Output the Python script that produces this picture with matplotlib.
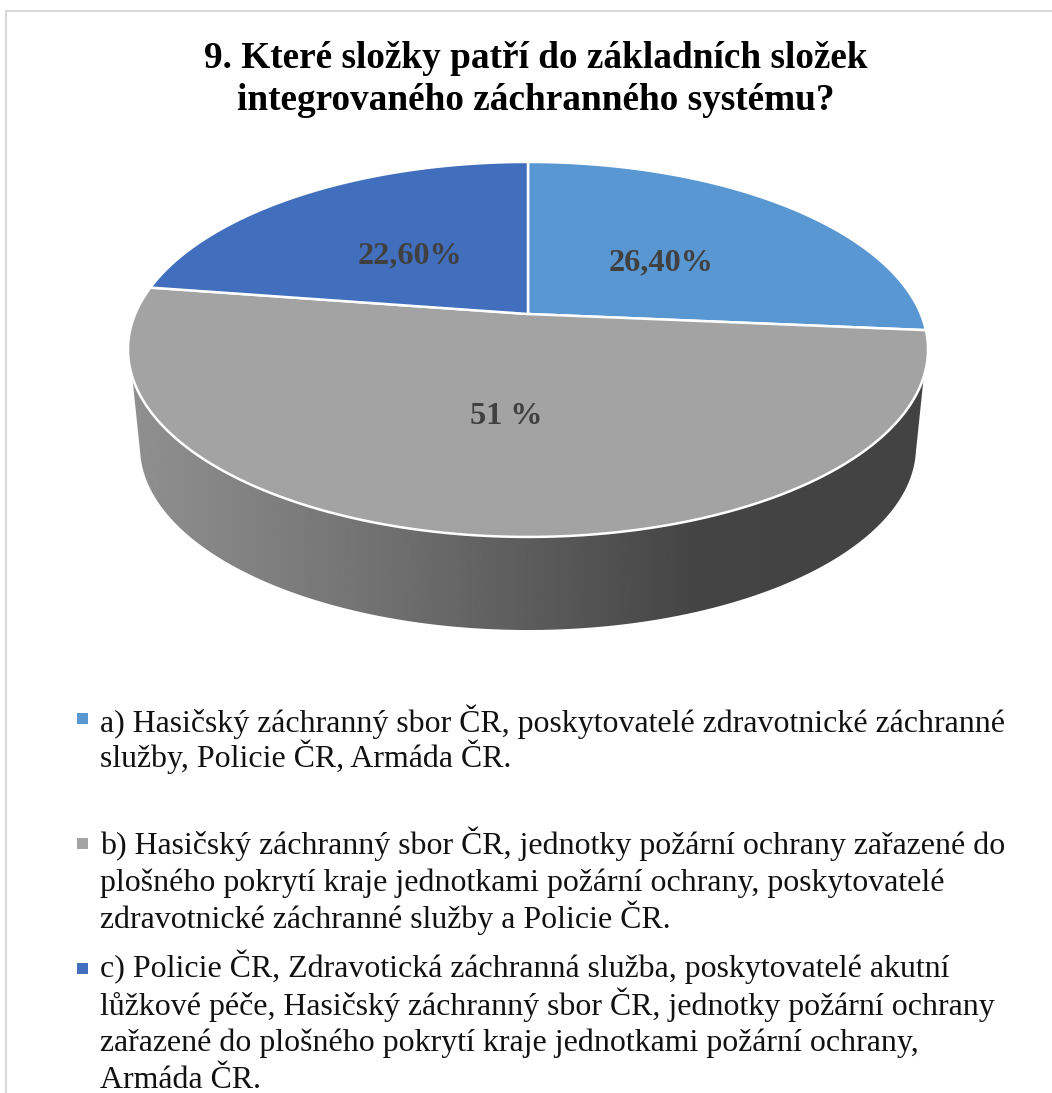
import numpy as np
import matplotlib
matplotlib.use('Agg')
import matplotlib.pyplot as plt
from matplotlib.patches import Polygon

# Values and texts
shares = [26.4, 51.0, 22.6]
share_labels = ['26,40%', '51 %', '22,60%']
colors = ['#5997D3', '#A3A3A3', '#416FBD']
title_lines = ['9. Které složky patří do základních složek',
               'integrovaného záchranného systému?']
legend_a = ['a) Hasičský záchranný sbor ČR, poskytovatelé zdravotnické záchranné',
            'služby, Policie ČR, Armáda ČR.']
legend_b = ['b) Hasičský záchranný sbor ČR, jednotky požární ochrany zařazené do',
            'plošného pokrytí kraje jednotkami požární ochrany, poskytovatelé',
            'zdravotnické záchranné služby a Policie ČR.']
legend_c = ['c) Policie ČR, Zdravotická záchranná služba, poskytovatelé akutní',
            'lůžkové péče, Hasičský záchranný sbor ČR, jednotky požární ochrany',
            'zařazené do plošného pokrytí kraje jednotkami požární ochrany,',
            'Armáda ČR.']

plt.rcParams['font.family'] = ['Liberation Serif', 'DejaVu Serif']

fig = plt.figure(figsize=(10.52, 10.93), dpi=100)
ax = fig.add_axes([0, 0, 1, 1])
ax.set_xlim(0, 1052)
ax.set_ylim(1093, 0)
ax.axis('off')

# Pie is a flat disc seen in perspective, so the centre sits above the ellipse middle
cx, cy = 528, 314
persp = 0.189
scale_x, scale_y = 392.8, 180.8


def disc(angle, radius=1.0):
    # angle in degrees, clockwise from 12 o'clock
    t = np.radians(angle)
    u, v = radius * np.sin(t), radius * np.cos(t)
    w = 1 + persp * v
    return cx + scale_x * u / w, cy - scale_y * v / w


# Side wall: outline between the top rim and the smaller bottom rim
rim = np.linspace(90, 270, 200)
top_x, top_y = disc(rim)
keep = top_y > 375
top_x, top_y = top_x[keep], top_y[keep]
low = np.radians(np.linspace(90, 270, 200))
low_x = cx + 388 * np.sin(low)
low_y = 447 - 183 * np.cos(low)
keep = low_y > 450
low_x, low_y = low_x[keep], low_y[keep]
wall_xy = np.column_stack([np.r_[top_x, low_x[::-1]], np.r_[top_y, low_y[::-1]]])
wall = Polygon(wall_xy, closed=True, fc='none', ec='none')
ax.add_patch(wall)

grad_x = np.linspace(125, 935, 400)
grad = np.interp(grad_x, [130, 350, 530, 700, 930], [0x90, 0x75, 0x5C, 0x44, 0x43]) / 255
img = ax.imshow(grad[None, :], extent=[125, 935, 640, 340], cmap='gray', vmin=0, vmax=1,
                aspect='auto', zorder=1)
img.set_clip_path(wall)
ax.set_xlim(0, 1052)
ax.set_ylim(1093, 0)

# Top face
start = 0
for share, color in zip(shares, colors):
    end = start + share * 3.6
    xs, ys = disc(np.linspace(start, end, 200))
    ax.fill(np.r_[cx, xs], np.r_[cy, ys], fc=color, ec='white', lw=1.8, joinstyle='round', zorder=2)
    start = end

# Data labels
label_pos = [(661, 263), (506, 416), (410, 256)]
for (x, y), text in zip(label_pos, share_labels):
    ax.text(x, y, text, ha='center', va='center', fontsize=23.2, fontweight='bold',
            color='#404040', zorder=3)

# Title
for y, line in zip([68, 110], title_lines):
    ax.text(536, y, line, ha='center', va='baseline', fontsize=26.8, fontweight='bold', color='black')

# Legend
legend_rows = [(713, [732, 767], legend_a),
               (838, [854, 891, 928], legend_b),
               (963, [977, 1015, 1051, 1088], legend_c)]
for (top, rows, lines), color in zip(legend_rows, colors):
    ax.fill([77, 88, 88, 77], [top, top, top + 11, top + 11], fc=color, ec='none')
    for y, line in zip(rows, lines):
        ax.text(100, y, line, ha='left', va='baseline', fontsize=22.95, color='#111111')

# Chart frame, only the top and left edges are in the crop
ax.plot([6, 6, 1052], [1093, 11, 11], color='#D9D9D9', lw=1.5)

fig.savefig('out.png', dpi=100)
